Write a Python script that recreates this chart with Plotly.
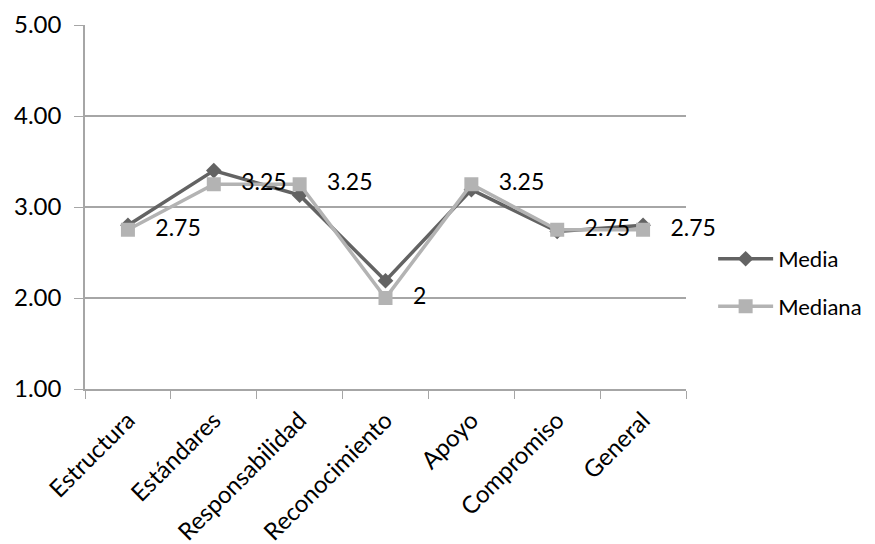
import plotly.graph_objects as go

# Climate dimensions and their summary statistics
categorias = ["Estructura", "Estándares", "Responsabilidad", "Reconocimiento",
              "Apoyo", "Compromiso", "General"]
media = [2.80, 3.40, 3.13, 2.19, 3.19, 2.73, 2.80]
mediana = [2.75, 3.25, 3.25, 2.00, 3.25, 2.75, 2.75]
y_ticks = [1, 2, 3, 4, 5]

FONT = "Lato"
GRID = "#a6a6a6"

fig = go.Figure()
fig.add_trace(go.Scatter(
    x=categorias, y=media, name="Media", mode="lines+markers",
    line=dict(color="#636363", width=3.5),
    marker=dict(symbol="diamond", size=12, color="#636363"),
    legendgroup="a",
))
fig.add_trace(go.Scatter(
    x=categorias, y=mediana, name="Mediana", mode="lines+markers+text",
    line=dict(color="#b3b3b3", width=3.5),
    marker=dict(symbol="square", size=14, color="#b3b3b3"),
    text=["   " + f"{v:g}" for v in mediana], textposition="middle right",
    textfont=dict(family=FONT, size=23, color="#000000"),
    cliponaxis=False,
    legendgroup="b",
))

fig.update_layout(
    width=875, height=544,
    margin=dict(l=85, r=189, t=25, b=155, autoexpand=False),
    paper_bgcolor="white", plot_bgcolor="white",
    font=dict(family=FONT, size=23, color="#000000"),
    showlegend=True,
    legend=dict(xref="container", yref="container", x=0.815, y=0.48,
                xanchor="left", yanchor="middle",
                tracegroupgap=16, traceorder="grouped", itemwidth=55,
                borderwidth=0,
                font=dict(family=FONT, size=22, color="#000000")),
    xaxis=dict(
        type="category", range=[-0.5, 6.5], tickangle=-45,
        tickson="boundaries", ticks="outside", ticklen=8, tickcolor=GRID,
        ticklabelstandoff=6,
        showline=True, linecolor=GRID, linewidth=1.5,
        showgrid=False, tickfont=dict(family=FONT, size=24),
    ),
    yaxis=dict(
        range=[1, 5], tickvals=y_ticks, tickformat=".2f",
        ticks="outside", ticklen=9, tickcolor=GRID, ticklabelstandoff=8,
        showline=True, linecolor=GRID, linewidth=1.5,
        showgrid=True, gridcolor=GRID, gridwidth=1.5, zeroline=False,
        tickfont=dict(family=FONT, size=24),
    ),
)

fig.write_html("out.html")
